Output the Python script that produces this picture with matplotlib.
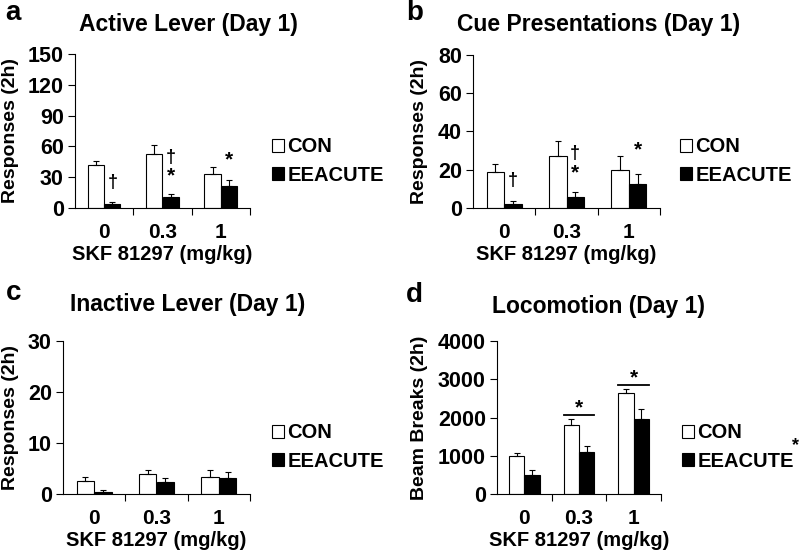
import numpy as np
import matplotlib.pyplot as plt
from matplotlib.patches import Patch

plt.rcParams['font.family'] = ['Liberation Sans', 'DejaVu Sans']
plt.rcParams['font.weight'] = 'bold'

W, H = 800, 555

doses = ['0', '0.3', '1']
groups = ['CON', 'EEACUTE']

# a: active lever
active_con = [42, 53, 33]
active_con_err = [4, 8, 7]
active_ee = [4, 11, 21]
active_ee_err = [2, 3, 6]

# b: cue presentations
cue_con = [19, 27, 20]
cue_con_err = [4, 8, 7]
cue_ee = [2, 6, 12.5]
cue_ee_err = [1.5, 2.5, 5.5]

# c: inactive lever
inactive_con = [2.5, 4.0, 3.3]
inactive_con_err = [0.9, 0.8, 1.5]
inactive_ee = [0.4, 2.4, 3.1]
inactive_ee_err = [0.3, 0.8, 1.2]

# d: locomotion
loco_con = [1000, 1800, 2630]
loco_con_err = [70, 170, 120]
loco_ee = [500, 1100, 1950]
loco_ee_err = [140, 160, 280]


def px_axes(fig, x0, y0, x1, y1):
    # pixel box (top-left origin) -> figure axes
    return fig.add_axes([x0 / W, 1 - y1 / H, (x1 - x0) / W, (y1 - y0) / H])


def panel(fig, box, con, con_err, ee, ee_err, ymax, step, title, ylabel, letter,
          title_px, ylab_x, letter_px, leg_px):
    ax = px_axes(fig, *box)
    x = np.arange(len(doses)) + 0.5
    w = 0.28
    ax.bar(x - w / 2, con, w, color='white', edgecolor='black', linewidth=0.8)
    ax.bar(x + w / 2, ee, w, color='black', edgecolor='black', linewidth=0.8)
    ax.errorbar(x - w / 2, con, yerr=[np.zeros(3), con_err], fmt='none',
                ecolor='black', elinewidth=0.8, capsize=2.5, capthick=0.8)
    ax.errorbar(x + w / 2, ee, yerr=[np.zeros(3), ee_err], fmt='none',
                ecolor='black', elinewidth=0.8, capsize=2.5, capthick=0.8)
    ax.set_xlim(0, 3)
    ax.set_ylim(0, ymax)
    ax.set_yticks(np.arange(0, ymax + 1, step))
    ax.set_xticks([1, 2, 3])
    ax.set_xticklabels([])
    ax.set_xticks(x, minor=True)
    ax.set_xticklabels(doses, minor=True)
    ax.tick_params(axis='x', which='minor', length=0, pad=11, labelsize=15)
    ax.tick_params(axis='x', which='major', length=5, width=0.8)
    ax.tick_params(axis='y', length=5, width=0.8, labelsize=15.5, pad=3)
    for s in ['top', 'right']:
        ax.spines[s].set_visible(False)
    for s in ['left', 'bottom']:
        ax.spines[s].set_linewidth(0.8)
    ax.set_ylabel(ylabel, fontsize=14, fontweight='bold')
    # label anchor is the right edge of the rotated text
    ax.yaxis.set_label_coords((ylab_x - box[0]) / (box[2] - box[0]), 0.5)
    ax.set_xlabel('SKF 81297 (mg/kg)', fontsize=14.5, fontweight='bold', labelpad=2)
    fig.text(title_px[0] / W, 1 - title_px[1] / H, title, fontsize=16.5,
             fontweight='bold', ha='center', va='center')
    fig.text(letter_px[0] / W, 1 - letter_px[1] / H, letter, fontsize=20,
             fontweight='bold', ha='left', va='baseline')
    handles = [Patch(facecolor='white', edgecolor='black', linewidth=0.8),
               Patch(facecolor='black', edgecolor='black', linewidth=0.8)]
    fig.legend(handles, groups, loc='center left',
               bbox_to_anchor=(leg_px[0] / W, 1 - leg_px[1] / H),
               frameon=False, fontsize=14.5, handlelength=0.62, handleheight=0.62,
               handletextpad=0.15, labelspacing=0.45, borderaxespad=0, borderpad=0)
    return ax, x, w


fig = plt.figure(figsize=(8, 5.55), dpi=100)

ax_a, x, w = panel(fig, (75, 54, 250, 208), active_con, active_con_err, active_ee,
                   active_ee_err, 150, 30, 'Active Lever (Day 1)', 'Responses (2h)', 'a',
                   (188, 25), 19, (5, 20), (272, 161))
ax_a.text(x[0] + w / 2, 25, '\u2020', ha='center', va='center', fontsize=13)
ax_a.text(x[1] + w / 2, 49, '\u2020', ha='center', va='center', fontsize=13)
ax_a.text(x[1] + w / 2, 31, '*', ha='center', va='center', fontsize=15)
ax_a.text(x[2] + w / 2, 47, '*', ha='center', va='center', fontsize=15)

ax_b, x, w = panel(fig, (473, 55, 660, 208), cue_con, cue_con_err, cue_ee,
                   cue_ee_err, 80, 20, 'Cue Presentations (Day 1)', 'Responses (2h)', 'b',
                   (599, 24), 428, (406, 20), (680, 161))
ax_b.text(x[0] + w / 2, 14.5, '\u2020', ha='center', va='center', fontsize=13)
ax_b.text(x[1] + w / 2, 28.5, '\u2020', ha='center', va='center', fontsize=13)
ax_b.text(x[1] + w / 2, 18.5, '*', ha='center', va='center', fontsize=15)
ax_b.text(x[2] + w / 2, 30.5, '*', ha='center', va='center', fontsize=15)

panel(fig, (63, 341, 250, 494), inactive_con, inactive_con_err, inactive_ee,
      inactive_ee_err, 30, 10, 'Inactive Lever (Day 1)', 'Responses (2h)', 'c',
      (188, 304), 19, (6, 300), (272, 447))

ax_d, x, w = panel(fig, (497, 341, 661, 494), loco_con, loco_con_err, loco_ee,
                   loco_ee_err, 4000, 1000, 'Locomotion (Day 1)', 'Beam Breaks (2h)', 'd',
                   (599, 306), 428, (406, 302), (682, 447))
for i, (yl, ys) in zip([1, 2], [(2060, 2250), (2850, 3040)]):
    ax_d.plot([x[i] - w, x[i] + w], [yl, yl], color='black', lw=1.3)
    ax_d.text(x[i], ys, '*', ha='center', va='center', fontsize=15)
fig.text(795 / W, 1 - 446 / H, '*', ha='center', va='center', fontsize=13)

fig.savefig('out.png', dpi=100)
